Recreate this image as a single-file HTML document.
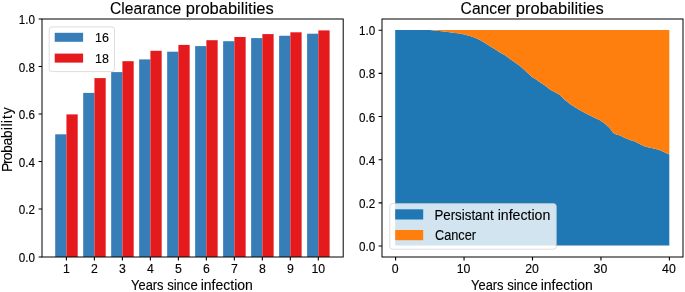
<!DOCTYPE html>
<html><head><meta charset="utf-8"><style>
html,body{margin:0;padding:0;background:#fff;width:685px;height:292px;overflow:hidden}
text{font-family:"Liberation Sans", sans-serif}
</style></head><body>
<div style="position:absolute;left:0;top:0;will-change:transform">
<svg width="685" height="292" viewBox="0 0 685 292" style="display:block">
<rect width="685" height="292" fill="#fff"/>
<rect x="55.20" y="134.30" width="11.25" height="122.70" fill="#377eb8"/>
<rect x="66.45" y="114.40" width="11.25" height="142.60" fill="#e41a1c"/>
<rect x="83.19" y="92.90" width="11.25" height="164.10" fill="#377eb8"/>
<rect x="94.44" y="78.10" width="11.25" height="178.90" fill="#e41a1c"/>
<rect x="111.18" y="72.10" width="11.25" height="184.90" fill="#377eb8"/>
<rect x="122.43" y="61.20" width="11.25" height="195.80" fill="#e41a1c"/>
<rect x="139.17" y="59.40" width="11.25" height="197.60" fill="#377eb8"/>
<rect x="150.42" y="50.80" width="11.25" height="206.20" fill="#e41a1c"/>
<rect x="167.16" y="51.70" width="11.25" height="205.30" fill="#377eb8"/>
<rect x="178.41" y="44.90" width="11.25" height="212.10" fill="#e41a1c"/>
<rect x="195.15" y="46.10" width="11.25" height="210.90" fill="#377eb8"/>
<rect x="206.40" y="40.20" width="11.25" height="216.80" fill="#e41a1c"/>
<rect x="223.14" y="41.20" width="11.25" height="215.80" fill="#377eb8"/>
<rect x="234.39" y="37.00" width="11.25" height="220.00" fill="#e41a1c"/>
<rect x="251.13" y="38.10" width="11.25" height="218.90" fill="#377eb8"/>
<rect x="262.38" y="34.10" width="11.25" height="222.90" fill="#e41a1c"/>
<rect x="279.12" y="35.75" width="11.25" height="221.25" fill="#377eb8"/>
<rect x="290.37" y="32.30" width="11.25" height="224.70" fill="#e41a1c"/>
<rect x="307.11" y="33.70" width="11.25" height="223.30" fill="#377eb8"/>
<rect x="318.36" y="30.40" width="11.25" height="226.60" fill="#e41a1c"/>
<polygon points="395.2,245.4 395.2,29.9 415.0,29.9 429.6,30.1 444.2,31.6 455.0,32.9 460.0,33.6 465.0,34.7 470.0,36.0 475.0,37.7 480.0,40.1 485.0,42.9 490.0,46.3 495.0,49.3 500.0,52.4 505.0,55.3 510.0,58.9 515.0,62.5 520.0,66.0 525.0,70.6 530.0,75.3 532.0,77.0 535.0,78.8 540.0,82.2 545.0,85.6 550.0,89.6 555.0,92.3 560.0,95.1 565.0,99.9 570.0,104.0 575.0,107.3 580.0,110.3 585.0,113.0 590.0,115.6 595.0,118.1 600.0,120.2 605.0,123.8 610.0,128.4 613.0,132.8 615.0,134.0 620.0,135.6 625.0,137.9 630.0,140.1 635.0,141.6 640.0,144.3 645.0,146.5 650.0,147.8 655.0,148.8 660.0,150.3 665.0,152.4 669.3,154.4 669.3,245.4" fill="#1f77b4"/>
<polygon points="395.2,29.9 669.3,29.9 669.3,154.4 665.0,152.4 660.0,150.3 655.0,148.8 650.0,147.8 645.0,146.5 640.0,144.3 635.0,141.6 630.0,140.1 625.0,137.9 620.0,135.6 615.0,134.0 613.0,132.8 610.0,128.4 605.0,123.8 600.0,120.2 595.0,118.1 590.0,115.6 585.0,113.0 580.0,110.3 575.0,107.3 570.0,104.0 565.0,99.9 560.0,95.1 555.0,92.3 550.0,89.6 545.0,85.6 540.0,82.2 535.0,78.8 532.0,77.0 530.0,75.3 525.0,70.6 520.0,66.0 515.0,62.5 510.0,58.9 505.0,55.3 500.0,52.4 495.0,49.3 490.0,46.3 485.0,42.9 480.0,40.1 475.0,37.7 470.0,36.0 465.0,34.7 460.0,33.6 455.0,32.9 444.2,31.6 429.6,30.1 415.0,29.9 395.2,29.9" fill="#ff7f0e"/>
<rect x="42.0" y="19.0" width="301.20" height="238.00" stroke="#000" stroke-width="1.0" fill="none"/>
<rect x="382.0" y="19.0" width="301.00" height="238.00" stroke="#000" stroke-width="1.0" fill="none"/>
<path d="M38.60,257.00H42.00M378.60,246.00H382.00M38.60,209.00H42.00M378.60,202.84H382.00M38.60,161.50H42.00M378.60,159.68H382.00M38.60,114.00H42.00M378.60,116.52H382.00M38.60,66.50H42.00M378.60,73.36H382.00M38.60,19.00H42.00M378.60,30.20H382.00M66.40,257.00V260.40M94.39,257.00V260.40M122.38,257.00V260.40M150.37,257.00V260.40M178.36,257.00V260.40M206.35,257.00V260.40M234.34,257.00V260.40M262.33,257.00V260.40M290.32,257.00V260.40M318.31,257.00V260.40M395.60,257.00V260.40M464.05,257.00V260.40M532.50,257.00V260.40M600.95,257.00V260.40M669.40,257.00V260.40" stroke="#000" stroke-width="1.1" fill="none"/>
<g font-family='"Liberation Sans", sans-serif' fill="#000" stroke="#000" stroke-width="0.12">
<text x="34.90" y="261.70" font-size="12.3" text-anchor="end" textLength="16.2" lengthAdjust="spacingAndGlyphs">0.0</text>
<text x="375.30" y="251.10" font-size="12.3" text-anchor="end" textLength="16.2" lengthAdjust="spacingAndGlyphs">0.0</text>
<text x="34.90" y="214.20" font-size="12.3" text-anchor="end" textLength="16.2" lengthAdjust="spacingAndGlyphs">0.2</text>
<text x="375.30" y="207.94" font-size="12.3" text-anchor="end" textLength="16.2" lengthAdjust="spacingAndGlyphs">0.2</text>
<text x="34.90" y="166.70" font-size="12.3" text-anchor="end" textLength="16.2" lengthAdjust="spacingAndGlyphs">0.4</text>
<text x="375.30" y="164.78" font-size="12.3" text-anchor="end" textLength="16.2" lengthAdjust="spacingAndGlyphs">0.4</text>
<text x="34.90" y="119.20" font-size="12.3" text-anchor="end" textLength="16.2" lengthAdjust="spacingAndGlyphs">0.6</text>
<text x="375.30" y="121.62" font-size="12.3" text-anchor="end" textLength="16.2" lengthAdjust="spacingAndGlyphs">0.6</text>
<text x="34.90" y="71.70" font-size="12.3" text-anchor="end" textLength="16.2" lengthAdjust="spacingAndGlyphs">0.8</text>
<text x="375.30" y="78.46" font-size="12.3" text-anchor="end" textLength="16.2" lengthAdjust="spacingAndGlyphs">0.8</text>
<text x="34.90" y="24.20" font-size="12.3" text-anchor="end" textLength="16.2" lengthAdjust="spacingAndGlyphs">1.0</text>
<text x="375.30" y="35.30" font-size="12.3" text-anchor="end" textLength="16.2" lengthAdjust="spacingAndGlyphs">1.0</text>
<text x="66.40" y="272.70" font-size="12.3" text-anchor="middle" >1</text>
<text x="94.39" y="272.70" font-size="12.3" text-anchor="middle" >2</text>
<text x="122.38" y="272.70" font-size="12.3" text-anchor="middle" >3</text>
<text x="150.37" y="272.70" font-size="12.3" text-anchor="middle" >4</text>
<text x="178.36" y="272.70" font-size="12.3" text-anchor="middle" >5</text>
<text x="206.35" y="272.70" font-size="12.3" text-anchor="middle" >6</text>
<text x="234.34" y="272.70" font-size="12.3" text-anchor="middle" >7</text>
<text x="262.33" y="272.70" font-size="12.3" text-anchor="middle" >8</text>
<text x="290.32" y="272.70" font-size="12.3" text-anchor="middle" >9</text>
<text x="318.31" y="272.70" font-size="12.3" text-anchor="middle" >10</text>
<text x="395.10" y="272.70" font-size="12.3" text-anchor="middle" >0</text>
<text x="463.55" y="272.70" font-size="12.3" text-anchor="middle" >10</text>
<text x="532.00" y="272.70" font-size="12.3" text-anchor="middle" >20</text>
<text x="600.45" y="272.70" font-size="12.3" text-anchor="middle" >30</text>
<text x="668.90" y="272.70" font-size="12.3" text-anchor="middle" >40</text>
<text x="131.11" y="289.70" font-size="14.0" textLength="32.45" lengthAdjust="spacingAndGlyphs">Years</text><text x="167.14" y="289.70" font-size="14.0" textLength="30.54" lengthAdjust="spacingAndGlyphs">since</text><text x="200.76" y="289.70" font-size="14.0" textLength="52.05" lengthAdjust="spacingAndGlyphs">infection</text>
<text x="471.11" y="289.70" font-size="14.0" textLength="32.45" lengthAdjust="spacingAndGlyphs">Years</text><text x="507.14" y="289.70" font-size="14.0" textLength="30.54" lengthAdjust="spacingAndGlyphs">since</text><text x="540.76" y="289.70" font-size="14.0" textLength="52.05" lengthAdjust="spacingAndGlyphs">infection</text>
<text transform="translate(11.7,0) rotate(-90)" font-size="14.0" x="-171.88 -163.98 -160.20 -153.06 -145.50 -138.36 -130.26 -126.56 -123.16 -119.09 -114.30" y="0">Probability</text>
<text x="110.02" y="13.80" font-size="16.25" textLength="71.26" lengthAdjust="spacingAndGlyphs">Clearance</text><text x="185.73" y="13.80" font-size="16.25" textLength="88.04" lengthAdjust="spacingAndGlyphs">probabilities</text>
<text x="460.62" y="13.80" font-size="16.25" textLength="50.44" lengthAdjust="spacingAndGlyphs">Cancer</text><text x="515.83" y="13.80" font-size="16.25" textLength="87.93" lengthAdjust="spacingAndGlyphs">probabilities</text>
</g>
<rect x="49.2" y="26.9" width="65.3" height="44.7" rx="2.8" fill="#fff" fill-opacity="0.8" stroke="#cccccc" stroke-opacity="0.7" stroke-width="0.95"/>
<rect x="54.7" y="32.8" width="28.4" height="9" fill="#377eb8"/>
<rect x="54.7" y="53.6" width="28.4" height="9" fill="#e41a1c"/>
<g font-family='"Liberation Sans", sans-serif' fill="#000" stroke="#000" stroke-width="0.12">
<text x="95.00" y="42.00" font-size="12.5" text-anchor="start" >16</text>
<text x="95.00" y="62.70" font-size="12.5" text-anchor="start" >18</text>
</g>
<rect x="389.8" y="203.6" width="166.5" height="45.6" rx="2.8" fill="#fff" fill-opacity="0.8" stroke="#cccccc" stroke-opacity="0.7" stroke-width="0.95"/>
<rect x="395.2" y="209.3" width="28" height="10.2" fill="#1f77b4"/>
<rect x="395.2" y="230.0" width="28" height="10.2" fill="#ff7f0e"/>
<g font-family='"Liberation Sans", sans-serif' fill="#000" stroke="#000" stroke-width="0.12">
<text x="434.40" y="219.50" font-size="14.0" textLength="59.22" lengthAdjust="spacingAndGlyphs">Persistant</text><text x="497.65" y="219.50" font-size="14.0" textLength="52.67" lengthAdjust="spacingAndGlyphs">infection</text>
<text x="434.96" y="239.90" font-size="14.0" textLength="41.04" lengthAdjust="spacingAndGlyphs">Cancer</text>
</g>
</svg>
</div>
</body></html>
